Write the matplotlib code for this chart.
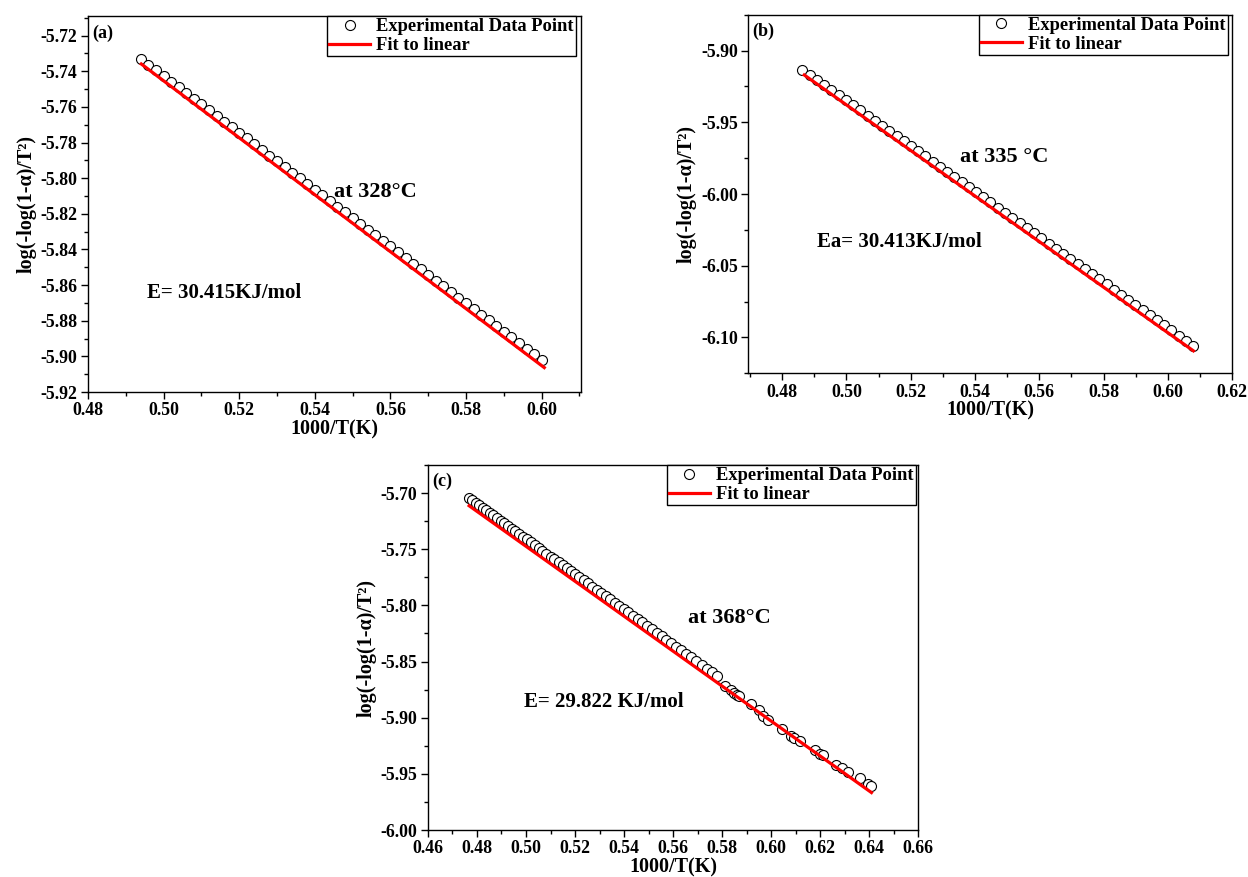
import matplotlib
matplotlib.use('Agg')
import matplotlib.pyplot as plt
from matplotlib.ticker import MultipleLocator, FormatStrFormatter

plt.rcParams['font.family'] = ['Liberation Serif', 'DejaVu Serif']
plt.rcParams['font.weight'] = 'bold'
plt.rcParams['axes.labelweight'] = 'bold'
plt.rcParams['axes.unicode_minus'] = False

# ---- panel (a), 328 C ----
x_a = [0.494, 0.496, 0.498, 0.500, 0.502, 0.504, 0.506, 0.508, 0.510, 0.512,
       0.514, 0.516, 0.518, 0.520, 0.522, 0.524, 0.526, 0.528, 0.530, 0.532,
       0.534, 0.536, 0.538, 0.540, 0.542, 0.544, 0.546, 0.548, 0.550, 0.552,
       0.554, 0.556, 0.558, 0.560, 0.562, 0.564, 0.566, 0.568, 0.570, 0.572,
       0.574, 0.576, 0.578, 0.580, 0.582, 0.584, 0.586, 0.588, 0.590, 0.592,
       0.594, 0.596, 0.598, 0.600]
y_a = [-5.7331, -5.7363, -5.7395, -5.7427, -5.7459, -5.7490, -5.7522, -5.7554, -5.7586, -5.7618,
       -5.7650, -5.7682, -5.7714, -5.7746, -5.7777, -5.7809, -5.7841, -5.7873, -5.7905, -5.7937,
       -5.7969, -5.8001, -5.8033, -5.8064, -5.8096, -5.8128, -5.8160, -5.8192, -5.8224, -5.8256,
       -5.8288, -5.8320, -5.8351, -5.8383, -5.8415, -5.8447, -5.8479, -5.8511, -5.8543, -5.8575,
       -5.8607, -5.8638, -5.8670, -5.8702, -5.8734, -5.8766, -5.8798, -5.8830, -5.8862, -5.8894,
       -5.8925, -5.8957, -5.8989, -5.9021]
fit_x_a = [0.4941, 0.6007]
fit_y_a = [-5.7359, -5.9063]

# ---- panel (b), 335 C ----
x_b = [0.4863, 0.4886, 0.4908, 0.4931, 0.4953, 0.4976, 0.4998, 0.5021, 0.5043, 0.5066,
       0.5088, 0.5111, 0.5133, 0.5156, 0.5178, 0.5201, 0.5223, 0.5246, 0.5268, 0.5291,
       0.5313, 0.5336, 0.5358, 0.5381, 0.5403, 0.5426, 0.5448, 0.5471, 0.5494, 0.5516,
       0.5539, 0.5561, 0.5584, 0.5606, 0.5629, 0.5651, 0.5674, 0.5696, 0.5719, 0.5741,
       0.5764, 0.5786, 0.5809, 0.5831, 0.5854, 0.5876, 0.5899, 0.5921, 0.5944, 0.5966,
       0.5989, 0.6011, 0.6034, 0.6056, 0.6079]
y_b = [-5.9132, -5.9168, -5.9203, -5.9239, -5.9275, -5.9310, -5.9346, -5.9382, -5.9417, -5.9453,
       -5.9489, -5.9524, -5.9560, -5.9596, -5.9631, -5.9667, -5.9703, -5.9738, -5.9774, -5.9810,
       -5.9845, -5.9881, -5.9917, -5.9952, -5.9988, -6.0024, -6.0059, -6.0095, -6.0131, -6.0166,
       -6.0202, -6.0238, -6.0273, -6.0309, -6.0345, -6.0380, -6.0416, -6.0452, -6.0487, -6.0523,
       -6.0559, -6.0594, -6.0630, -6.0666, -6.0701, -6.0737, -6.0773, -6.0808, -6.0844, -6.0880,
       -6.0915, -6.0951, -6.0987, -6.1022, -6.1058]
fit_x_b = [0.4869, 0.6079]
fit_y_b = [-5.9170, -6.1093]

# ---- panel (c), 368 C ----
x_c = [0.4767, 0.4781, 0.4795, 0.4809, 0.4823, 0.4837, 0.4852, 0.4866, 0.4881, 0.4896,
       0.4911, 0.4926, 0.4941, 0.4956, 0.4972, 0.4987, 0.5003, 0.5019, 0.5035, 0.5051,
       0.5067, 0.5083, 0.5100, 0.5116, 0.5133, 0.5150, 0.5167, 0.5184, 0.5201, 0.5218,
       0.5236, 0.5253, 0.5271, 0.5289, 0.5307, 0.5325, 0.5343, 0.5362, 0.5380, 0.5399,
       0.5418, 0.5437, 0.5456, 0.5475, 0.5494, 0.5514, 0.5533, 0.5553, 0.5573, 0.5593,
       0.5613, 0.5633, 0.5654, 0.5674, 0.5695, 0.5716, 0.5737, 0.5758, 0.5779,
       0.5810, 0.5835, 0.5850, 0.5862, 0.5870, 0.5918, 0.5952, 0.5966, 0.5986, 0.6045,
       0.6082, 0.6095, 0.6119, 0.6177, 0.6198, 0.6211, 0.6266, 0.6287, 0.6314, 0.6361,
       0.6395, 0.6406]
y_c = [-5.7044, -5.7066, -5.7088, -5.7110, -5.7132, -5.7154, -5.7177, -5.7199, -5.7222, -5.7246,
       -5.7269, -5.7293, -5.7316, -5.7340, -5.7365, -5.7388, -5.7413, -5.7438, -5.7463, -5.7488,
       -5.7513, -5.7538, -5.7565, -5.7590, -5.7617, -5.7643, -5.7670, -5.7696, -5.7723, -5.7750,
       -5.7778, -5.7804, -5.7833, -5.7861, -5.7889, -5.7917, -5.7945, -5.7975, -5.8003, -5.8033,
       -5.8063, -5.8092, -5.8122, -5.8152, -5.8181, -5.8213, -5.8242, -5.8274, -5.8305, -5.8336,
       -5.8368, -5.8399, -5.8432, -5.8463, -5.8496, -5.8529, -5.8562, -5.8594, -5.8627,
       -5.8714, -5.8753, -5.8776, -5.8795, -5.8808, -5.8882, -5.8935, -5.8981, -5.9016, -5.9098,
       -5.9163, -5.9181, -5.9211, -5.9291, -5.9320, -5.9335, -5.9418, -5.9447, -5.9482, -5.9535,
       -5.9586, -5.9606]
fit_x_c = [0.4768, 0.6409]
fit_y_c = [-5.7113, -5.9666]

y_label = 'log(-log(1-α)/T²)'
x_label = '1000/T(K)'


def draw_panel(ax, x, y, fit_x, fit_y, tag, temp_txt, temp_pos, e_txt, e_pos, leg_right):
  ax.plot(x, y, 'o', ms=7.2, mfc='white', mec='black', mew=0.8,
          label='Experimental Data Point', zorder=2)
  ax.plot(fit_x, fit_y, color='red', lw=2.3, label='Fit to linear', zorder=3)

  ax.text(0.008, 0.955, tag, transform=ax.transAxes, fontsize=13, va='center', ha='left')
  ax.text(temp_pos[0], temp_pos[1], temp_txt, transform=ax.transAxes,
          fontsize=16, va='center', ha='left')
  ax.text(e_pos[0], e_pos[1], e_txt, transform=ax.transAxes,
          fontsize=15, va='center', ha='left')

  ax.set_xlabel(x_label, fontsize=14.5, labelpad=0)
  ax.set_ylabel(y_label, fontsize=14.5, labelpad=3)
  ax.tick_params(which='major', direction='out', length=5, width=1, labelsize=12.8, pad=2.5)
  ax.tick_params(which='minor', direction='out', length=3, width=1)
  for s in ax.spines.values():
    s.set_linewidth(1.0)

  leg = ax.legend(loc='upper right', bbox_to_anchor=(leg_right, 1.0), borderaxespad=0,
                  fancybox=False, edgecolor='black', framealpha=1,
                  prop={'size': 13.3, 'weight': 'bold'}, handlelength=2.2,
                  handletextpad=0.35, labelspacing=0.1, borderpad=0.12)
  leg.get_frame().set_linewidth(1.0)


fig = plt.figure(figsize=(12.48, 8.77), dpi=100)
ax_a = fig.add_axes([0.0705, 0.5530, 0.3947, 0.4287])
ax_b = fig.add_axes([0.5996, 0.5743, 0.3878, 0.4089])
ax_c = fig.add_axes([0.3429, 0.0535, 0.3929, 0.4163])

draw_panel(ax_a, x_a, y_a, fit_x_a, fit_y_a, '(a)', 'at 328°C', (0.50, 0.533),
           'E= 30.415KJ/mol', (0.12, 0.2625), 0.991)
ax_a.set_xlim(0.48, 0.6103)
ax_a.set_ylim(-5.92, -5.709)
ax_a.xaxis.set_major_locator(MultipleLocator(0.02))
ax_a.xaxis.set_minor_locator(MultipleLocator(0.01))
ax_a.yaxis.set_major_locator(MultipleLocator(0.02))
ax_a.yaxis.set_minor_locator(MultipleLocator(0.01))

draw_panel(ax_b, x_b, y_b, fit_x_b, fit_y_b, '(b)', 'at 335 °C', (0.437, 0.603),
           'Ea= 30.413KJ/mol', (0.142, 0.366), 0.991)
ax_b.set_xlim(0.4695, 0.62)
ax_b.set_ylim(-6.125, -5.875)
ax_b.xaxis.set_major_locator(MultipleLocator(0.02))
ax_b.xaxis.set_minor_locator(MultipleLocator(0.01))
ax_b.yaxis.set_major_locator(MultipleLocator(0.05))
ax_b.yaxis.set_minor_locator(MultipleLocator(0.025))

draw_panel(ax_c, x_c, y_c, fit_x_c, fit_y_c, '(c)', 'at 368°C', (0.531, 0.582),
           'E= 29.822 KJ/mol', (0.196, 0.3515), 0.995)
ax_c.set_xlim(0.46, 0.66)
ax_c.set_ylim(-6.00, -5.675)
ax_c.xaxis.set_major_locator(MultipleLocator(0.02))
ax_c.xaxis.set_minor_locator(MultipleLocator(0.01))
ax_c.yaxis.set_major_locator(MultipleLocator(0.05))
ax_c.yaxis.set_minor_locator(MultipleLocator(0.025))

for ax in (ax_a, ax_b, ax_c):
  ax.xaxis.set_major_formatter(FormatStrFormatter('%.2f'))
  ax.yaxis.set_major_formatter(FormatStrFormatter('%.2f'))

fig.savefig('out.png', dpi=100)
